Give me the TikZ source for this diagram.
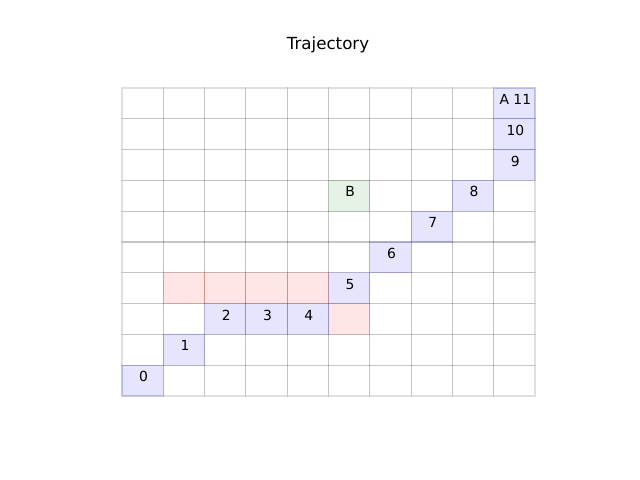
\documentclass[tikz,border=0pt]{standalone}
\usepackage{fontspec}
\setmainfont{DejaVu Sans}
\begin{document}
\begin{tikzpicture}[x=0.72pt,y=-0.72pt,
  cellbox/.style={draw=black,draw opacity=0.12,line width=0.8pt},
  bluecell/.style={draw=blue,draw opacity=0.1,fill=blue,fill opacity=0.1,line width=0.8pt},
  redcell/.style={draw=red,draw opacity=0.1,fill=red,fill opacity=0.1,line width=0.8pt},
  greencell/.style={draw=green!50!black,draw opacity=0.1,fill=green!50!black,fill opacity=0.1,line width=0.8pt},
  lbl/.style={anchor=base,inner sep=0pt,font=\fontsize{10pt}{12pt}\selectfont}]
\useasboundingbox (0,0) rectangle (640,480);
\def\cw{41.3}
\def\ch{30.8}
% grid
\foreach \i in {0,...,9}{
  \foreach \j in {0,...,9}{
    \path[cellbox] ({122+\cw*\i},{396-\ch*\j}) rectangle ({122+\cw*(\i+1)},{396-\ch*(\j+1)});
  }
}
% red cells
\foreach \i/\j in {1/3,2/3,3/3,4/3,5/2}{
  \path[redcell] ({122+\cw*\i},{396-\ch*\j}) rectangle ({122+\cw*(\i+1)},{396-\ch*(\j+1)});
}
% green cell
\path[greencell] ({122+\cw*5},{396-\ch*6}) rectangle ({122+\cw*6},{396-\ch*7});
% blue cells
\foreach \i/\j in {0/0,1/1,2/2,3/2,4/2,5/3,6/4,7/5,8/6,9/7,9/8,9/9}{
  \path[bluecell] ({122+\cw*\i},{396-\ch*\j}) rectangle ({122+\cw*(\i+1)},{396-\ch*(\j+1)});
}
% labels
\foreach \i/\j/\t/\n in {0/0/0/l0,1/1/1/l1,2/2/2/l2,3/2/3/l3,4/2/4/l4,5/3/5/l5,6/4/6/l6,7/5/7/l7,8/6/8/l8,9/7/9/l9,9/8/10/l10,9/9/A 11/l11,5/6/B/lB}{
  \node[lbl] (\n) at ({122+\cw*(\i+0.5)+1},{396-\ch*(\j+1)+16.5}) {\t};
}
\node[font=\fontsize{12pt}{14pt}\selectfont] (title) at (328,45) {Trajectory};
\end{tikzpicture}
\end{document}
